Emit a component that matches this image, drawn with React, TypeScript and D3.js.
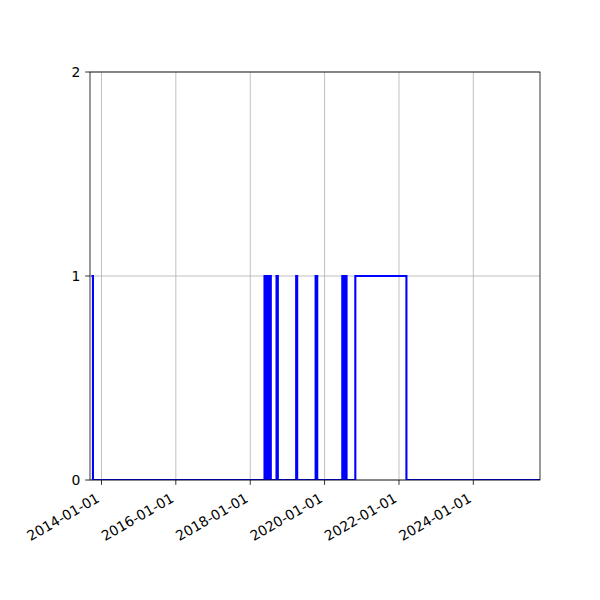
import React from 'react';
import * as d3 from 'd3';

// step series: each date is where the value changes
const changeDates: string[] = [
  '2013-09-24', '2013-10-09',
  '2018-05-21', '2018-05-29', '2018-06-04', '2018-06-12', '2018-06-18', '2018-06-26',
  '2018-07-02', '2018-07-09', '2018-07-14', '2018-07-22',
  '2018-09-16', '2018-09-29',
  '2019-03-28', '2019-04-07',
  '2019-10-05', '2019-10-21',
  '2020-06-23', '2020-06-30', '2020-07-05', '2020-07-12', '2020-07-18', '2020-07-25',
  '2020-07-29', '2020-08-04',
  '2020-10-29', '2022-03-15',
  '2025-10-17',
];
const changeValues: number[] = [
  1, 0,
  1, 0, 1, 0, 1, 0,
  1, 0, 1, 0,
  1, 0,
  1, 0,
  1, 0,
  1, 0, 1, 0, 1, 0,
  1, 0,
  1, 0,
  0,
];
const xTicks: string[] = ['2014-01-01', '2016-01-01', '2018-01-01', '2020-01-01', '2022-01-01', '2024-01-01'];
const yTicks: number[] = [0, 1, 2];
const xDomain: string[] = ['2013-09-10', '2025-10-17'];

const W = 600;
const H = 600;
const margin = { top: 72, right: 60, bottom: 120, left: 90 };
const font = 'DejaVu Sans, sans-serif';
const fs = 13.9;
const tickLen = 4.86;

export default function App() {
  const parse = d3.utcParse('%Y-%m-%d');
  const innerW = W - margin.left - margin.right;
  const innerH = H - margin.top - margin.bottom;

  const x = d3.scaleUtc()
    .domain([parse(xDomain[0])!, parse(xDomain[1])!])
    .range([0, innerW]);
  const y = d3.scaleLinear().domain([0, 2]).range([innerH, 0]);

  const pts = changeDates.map((d, i) => ({ date: parse(d)!, value: changeValues[i] }));
  const line = d3.line<{ date: Date; value: number }>()
    .x(d => x(d.date))
    .y(d => y(d.value))
    .curve(d3.curveStepAfter);

  return (
    <div style={{ margin: -8 }}>
      <svg width={W} height={H} style={{ display: 'block', background: '#fff' }}>
        <defs>
          <clipPath id="plot-clip">
            <rect x={0} y={0} width={innerW} height={innerH} />
          </clipPath>
        </defs>
        <g transform={`translate(${margin.left},${margin.top})`}>
          {/* grid */}
          {xTicks.map(t => (
            <line key={'gx' + t} x1={x(parse(t)!)} x2={x(parse(t)!)} y1={0} y2={innerH}
              stroke="#b0b0b0" strokeWidth={0.8} />
          ))}
          {yTicks.map(t => (
            <line key={'gy' + t} x1={0} x2={innerW} y1={y(t)} y2={y(t)}
              stroke="#b0b0b0" strokeWidth={0.8} />
          ))}

          <path d={line(pts) || ''} fill="none" stroke="#0000ff" strokeWidth={2.08}
            strokeLinejoin="miter" clipPath="url(#plot-clip)" />

          {/* spines */}
          <rect x={0} y={0} width={innerW} height={innerH} fill="none" stroke="#000" strokeWidth={0.8} />

          {/* x ticks */}
          {xTicks.map(t => {
            const px = x(parse(t)!);
            return (
              <g key={'tx' + t}>
                <line x1={px} x2={px} y1={innerH} y2={innerH + tickLen} stroke="#000" strokeWidth={0.8} />
                <text transform={`translate(${px - 1},${innerH + 21}) rotate(-30)`}
                  textAnchor="end" fontFamily={font} fontSize={fs} fill="#000">{t}</text>
              </g>
            );
          })}

          {/* y ticks */}
          {yTicks.map(t => (
            <g key={'ty' + t}>
              <line x1={-tickLen} x2={0} y1={y(t)} y2={y(t)} stroke="#000" strokeWidth={0.8} />
              <text x={-tickLen - 4.9} y={y(t)} textAnchor="end" dominantBaseline="central"
                fontFamily={font} fontSize={fs} fill="#000">{t}</text>
            </g>
          ))}
        </g>
      </svg>
    </div>
  );
}
